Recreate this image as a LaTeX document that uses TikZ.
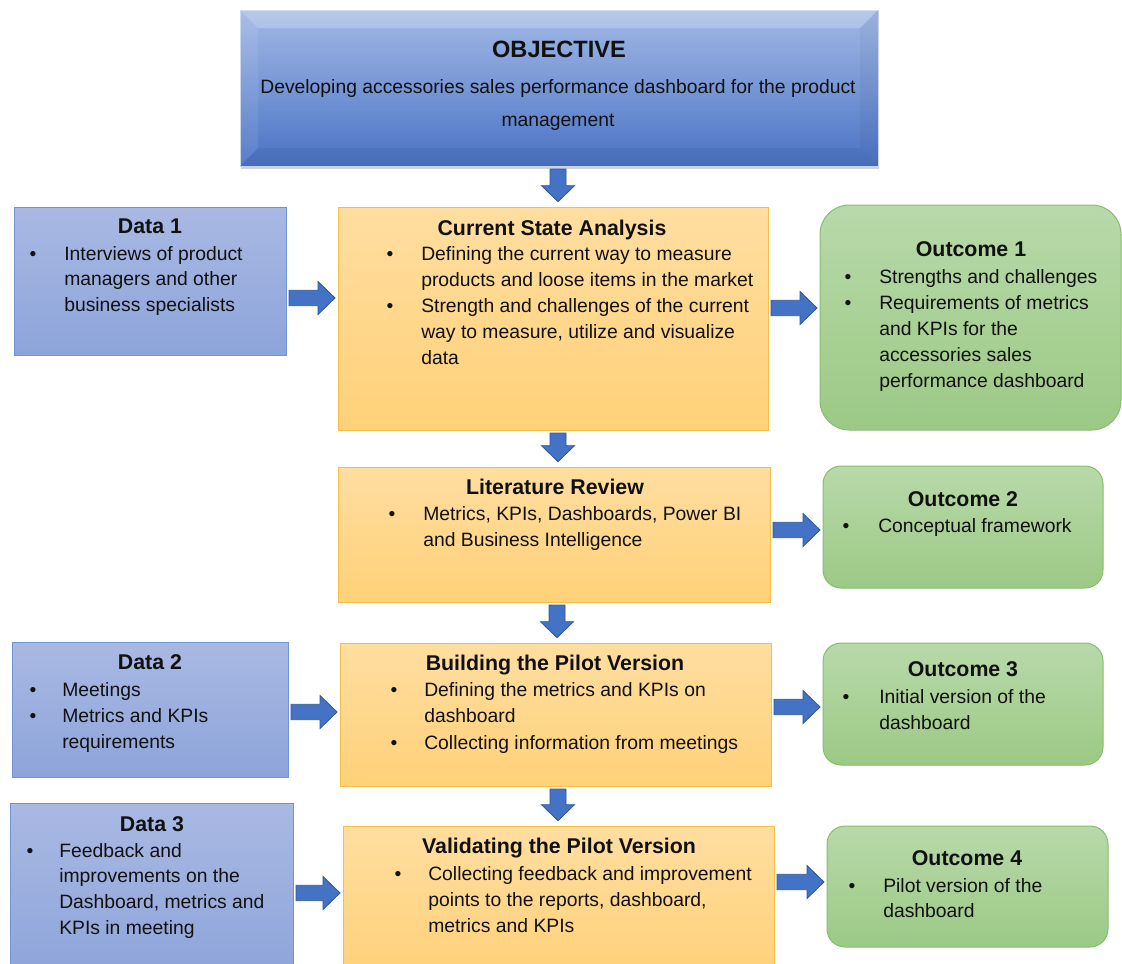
\documentclass[tikz,border=0pt]{standalone}
\usepackage{fontspec}
\setmainfont{Liberation Sans}
\usetikzlibrary{calc,fit,shadows}
\definecolor{databorder}{HTML}{6F93D6}
\definecolor{datatop}{HTML}{A9B9E3}
\definecolor{databot}{HTML}{8DA4DA}
\definecolor{orgborder}{HTML}{F5BF45}
\definecolor{orgtop}{HTML}{FFDEA1}
\definecolor{orgbot}{HTML}{FFD178}
\definecolor{grnborder}{HTML}{86BE6C}
\definecolor{grntop}{HTML}{B8D9AA}
\definecolor{grnbot}{HTML}{9CC985}
\definecolor{arrowfill}{HTML}{4472C4}
\definecolor{arrowdraw}{HTML}{2F5597}
\definecolor{objtop}{HTML}{A3B9E5}
\definecolor{objbot}{HTML}{4A73C5}
\definecolor{ink}{HTML}{111111}

\newcommand\harrow[3]{%
  \path[blockarrow] let \p1=(#1), \p2=(#2), \p3=(0,#3) in
   (\x1+2.25pt,\y3+5.8pt) -- (\x2-15pt,\y3+5.8pt) -- (\x2-15pt,\y3+12.4pt) -- (\x2-2.25pt,\y3)
   -- (\x2-15pt,\y3-12.4pt) -- (\x2-15pt,\y3-5.8pt) -- (\x1+2.25pt,\y3-5.8pt) -- cycle;}
\newcommand\varrow[3]{%
  \path[blockarrow] let \p1=(#1), \p2=(#2), \p3=(#3,0) in
   (\x3-6pt,\y1-2.25pt) -- (\x3-6pt,\y2+16pt) -- (\x3-12.4pt,\y2+16pt) -- (\x3,\y2+4pt)
   -- (\x3+12.4pt,\y2+16pt) -- (\x3+6pt,\y2+16pt) -- (\x3+6pt,\y1-2.25pt) -- cycle;}
\newcommand\blines[5]{%
  \foreach \t [count=\i] in {#5}{\node[txt] (#1\i) at (#2,{#3+(\i-1)*#4}) {\t};}}

\begin{document}
\begin{tikzpicture}[x=0.75pt,y=-0.75pt,
  box/.style={inner sep=0, outer sep=0, line width=0.75pt},
  databox/.style={box, draw=databorder, top color=datatop, bottom color=databot},
  orgbox/.style={box, draw=orgborder, top color=orgtop, bottom color=orgbot},
  grnbox/.style={box, draw=grnborder, top color=grntop, bottom color=grnbot, rounded corners=13.5pt},
  blockarrow/.style={fill=arrowfill, draw=arrowdraw, line width=0.6pt, line join=miter},
  txt/.style={anchor=base west, inner sep=0, text=ink, font=\fontsize{14.5}{17}\selectfont},
  bul/.style={anchor=base, inner sep=0, text=ink, font=\fontsize{14.5}{17}\selectfont},
  ttl/.style={anchor=base, inner sep=0, text=ink, font=\fontsize{16}{19}\selectfont\bfseries}]
\clip (0,0) rectangle (1122,964);
\useasboundingbox (0,0) rectangle (1122,964);

% objective
\node[box, fit={(240,10) (878,166)}, top color=objtop, bottom color=objbot, draw=objtop!60!white,
  drop shadow={opacity=0.35, shadow xshift=1pt, shadow yshift=-2pt}] (obj) {};
\fill[white, opacity=0.22] (obj.north west) -- (obj.north east) -- ($(obj.north east)+(-18,18)$) -- ($(obj.north west)+(18,18)$) -- cycle;
\fill[white, opacity=0.08] (obj.north west) -- ($(obj.north west)+(18,18)$) -- ($(obj.south west)+(18,-18)$) -- (obj.south west) -- cycle;
\fill[black, opacity=0.04] (obj.north east) -- ($(obj.north east)+(-18,18)$) -- ($(obj.south east)+(-18,-18)$) -- (obj.south east) -- cycle;
\fill[black, opacity=0.05] (obj.south west) -- ($(obj.south west)+(18,-18)$) -- ($(obj.south east)+(-18,-18)$) -- (obj.south east) -- cycle;
\node[anchor=base, inner sep=0, text=ink, font=\fontsize{17.7}{21}\selectfont\bfseries] (objt) at (559,57.5) {OBJECTIVE};
\node[anchor=base, inner sep=0, text=ink, font=\fontsize{14.5}{17}\selectfont] (objl1) at (558,93) {Developing accessories sales performance dashboard for the product};
\node[anchor=base, inner sep=0, text=ink, font=\fontsize{14.5}{17}\selectfont] (objl2) at (558,126) {management};

% boxes
\node[databox, fit={(14,207) (286,355)}] (d1) {};
\node[orgbox, fit={(338,207) (768,430)}] (csa) {};
\node[grnbox, rounded corners=22pt, fit={(820,205) (1121,430)}] (o1) {};
\node[orgbox, fit={(338,467) (770,602)}] (lr) {};
\node[grnbox, fit={(823,466) (1103,588)}] (o2) {};
\node[databox, fit={(12,642) (288,777)}] (d2) {};
\node[orgbox, fit={(340,643) (771,786)}] (bpv) {};
\node[grnbox, fit={(823,643) (1103,765)}] (o3) {};
\node[databox, fit={(10,803) (293,980)}] (d3) {};
\node[orgbox, fit={(343,826) (774,980)}] (vpv) {};
\node[grnbox, fit={(827,826) (1108,947)}] (o4) {};

% arrows
\varrow{obj.south}{csa.north}{558}
\varrow{csa.south}{lr.north}{558}
\varrow{lr.south}{bpv.north}{557}
\varrow{bpv.south}{vpv.north}{558}
\harrow{d1.east}{csa.west}{298}
\harrow{csa.east}{o1.west}{308}
\harrow{lr.east}{o2.west}{530}
\harrow{d2.east}{bpv.west}{712}
\harrow{bpv.east}{o3.west}{707}
\harrow{d3.east}{vpv.west}{893}
\harrow{vpv.east}{o4.west}{882}

% Data 1
\node[ttl] (d1t) at (150,233.5) {Data 1};
\node[bul] (d1b1) at (33,260) {•};
\blines{d1l}{64}{260}{25.5}{Interviews of product, managers and other, business specialists}

% Current state analysis
\node[ttl] (csat) at (552,235) {Current State Analysis};
\node[bul] (csab1) at (390,260) {•};
\node[bul] (csab2) at (390,312.4) {•};
\blines{csal}{421}{260}{26.2}{Defining the current way to measure, products and loose items in the market, Strength and challenges of the current, {way to measure, utilize and visualize}, data}

% Outcome 1
\node[ttl] (o1t) at (971,256) {Outcome 1};
\node[bul] (o1b1) at (848,283) {•};
\node[bul] (o1b2) at (848,309) {•};
\blines{o1l}{879}{283}{26}{Strengths and challenges, Requirements of metrics, and KPIs for the, accessories sales, performance dashboard}

% Literature review
\node[ttl] (lrt) at (555,494) {Literature Review};
\node[bul] (lrb1) at (392,520) {•};
\blines{lrl}{423}{520}{26}{{Metrics, KPIs, Dashboards, Power BI}, and Business Intelligence}

% Outcome 2
\node[ttl] (o2t) at (963,506) {Outcome 2};
\node[bul] (o2b1) at (846,532) {•};
\blines{o2l}{878}{532}{26}{Conceptual framework}

% Data 2
\node[ttl] (d2t) at (150,669) {Data 2};
\node[bul] (d2b1) at (33,696) {•};
\node[bul] (d2b2) at (33,722) {•};
\blines{d2l}{62}{696}{26}{Meetings, Metrics and KPIs, requirements}

% Building the pilot version
\node[ttl] (bpvt) at (555,670) {Building the Pilot Version};
\node[bul] (bpvb1) at (394,696) {•};
\node[bul] (bpvb2) at (394,749) {•};
\blines{bpvl}{424}{696}{26.5}{Defining the metrics and KPIs on, dashboard, Collecting information from meetings}

% Outcome 3
\node[ttl] (o3t) at (963,676) {Outcome 3};
\node[bul] (o3b1) at (846,703) {•};
\blines{o3l}{879}{703}{26}{Initial version of the, dashboard}

% Data 3
\node[ttl] (d3t) at (152,831) {Data 3};
\node[bul] (d3b1) at (30,857) {•};
\blines{d3l}{59}{857}{25.7}{Feedback and, improvements on the, {Dashboard, metrics and}, KPIs in meeting}

% Validating the pilot version
\node[ttl] (vpvt) at (559,853) {Validating the Pilot Version};
\node[bul] (vpvb1) at (398,880) {•};
\blines{vpvl}{428}{880}{26}{Collecting feedback and improvement, {points to the reports, dashboard,}, metrics and KPIs}

% Outcome 4
\node[ttl] (o4t) at (967,865) {Outcome 4};
\node[bul] (o4b1) at (852,892) {•};
\blines{o4l}{883}{892}{25}{Pilot version of the, dashboard}
\end{tikzpicture}
\end{document}
